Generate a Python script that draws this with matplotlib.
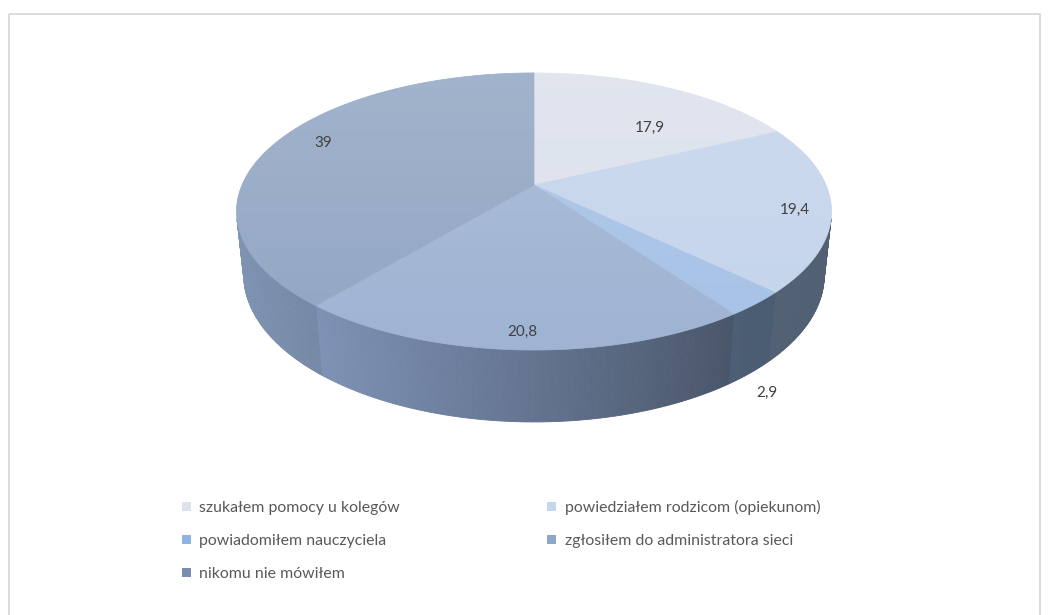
import numpy as np
import matplotlib.pyplot as plt
from matplotlib.patches import Polygon, Rectangle, Patch
from matplotlib.collections import PolyCollection
from matplotlib.colors import to_rgb

plt.rcParams['font.family'] = ['Lato', 'DejaVu Sans']

# dane
labels = ["szukałem pomocy u kolegów",
          "powiedziałem rodzicom (opiekunom)",
          "powiadomiłem nauczyciela",
          "zgłosiłem do administratora sieci",
          "nikomu nie mówiłem"]
values = [17.9, 19.4, 2.9, 20.8, 39]
value_text = ["17,9", "19,4", "2,9", "20,8", "39"]

# kolory: wierzch i boczna ściana
top_colors = ["#dbe1ec", "#c4d4eb", "#a6c2e6", "#9fb4d3", "#92a6c3"]
wall_colors = ["#a7b4c8", "#9db8e0", "#8fb0dc", "#889ec4", "#7f94b3"]
legend_colors = ["#dde3ec", "#c6d6ec", "#8fb4e3", "#8ea7c8", "#7a8fb0"]

# położenie etykiet (promień, przesunięcie kąta w stopniach, poziom)
lab_r = [0.635, 0.88, 1.1, 0.91, 0.84]
lab_da = [10.7, 2.4, 2.0, 0.0, 3.8]
lab_lvl = [0.0, 0.0, -1.0, 0.0, 0.0]

# kamera / perspektywa
alpha = np.radians(27.2)
k = 0.215          # R / odległość kamery
h = 0.246          # grubość placka (w R)
S = 292            # skala w px
cx, cy = 534, 185  # środek placka w px


def project(psi, r=1.0, y=0.0):
    X = r * np.sin(psi)
    Z = -r * np.cos(psi)
    d = 1 - k * (y * np.sin(alpha) + Z * np.cos(alpha))
    sx = S * X / d
    sy = S * (y * np.cos(alpha) - Z * np.sin(alpha)) / d
    return cx + sx, cy - sy


def shade(psi):
    s = 0.35 + 0.325 * (1 + np.cos(psi - np.radians(260)))
    return np.clip(s, 0.52, 1.0)


fig = plt.figure(figsize=(10.48, 6.15), dpi=100)
ax = fig.add_axes([0, 0, 1, 1])
ax.set_xlim(0, 1048)
ax.set_ylim(615, 0)
ax.axis('off')

# ramka wykresu
ax.add_patch(Rectangle((9, 14), 1031, 640, fill=False, edgecolor="#d9d9d9", lw=1.3))

vals = np.array(values)
bounds = np.concatenate([[0], np.cumsum(vals)]) / vals.sum() * 2 * np.pi
cos_lim = -k / np.cos(alpha)  # ściana widoczna gdy cos(psi) < cos_lim

# ściany boczne
quads, qcols = [], []
for i in range(len(vals)):
    a0, a1 = bounds[i], bounds[i + 1]
    ps = np.linspace(a0, a1, max(3, int((a1 - a0) / np.radians(0.5))))
    base = np.array(to_rgb(wall_colors[i]))
    for p0, p1 in zip(ps[:-1], ps[1:]):
        pm = 0.5 * (p0 + p1)
        if np.cos(pm) >= cos_lim:
            continue
        t0 = project(p0)
        t1 = project(p1)
        b1 = project(p1, y=-h)
        b0 = project(p0, y=-h)
        quads.append([t0, t1, b1, b0])
        qcols.append(np.clip(base * shade(pm), 0, 1))
ax.add_collection(PolyCollection(quads, facecolors=qcols, edgecolors=qcols, linewidths=0.6))

# wierzch
for i in range(len(vals)):
    a0, a1 = bounds[i], bounds[i + 1]
    ps = np.linspace(a0, a1, 200)
    pts = [project(0, r=0)] + [project(p) for p in ps]
    ax.add_patch(Polygon(pts, closed=True, facecolor=top_colors[i],
                         edgecolor=top_colors[i], lw=0.5))

# delikatny gradient światła na wierzchu
rim = [project(p) for p in np.linspace(0, 2 * np.pi, 400)]
rim_x = [p[0] for p in rim]
rim_y = [p[1] for p in rim]
clip = Polygon(rim, closed=True, transform=ax.transData, facecolor='none', edgecolor='none')
ax.add_patch(clip)
grad = np.ones((256, 1, 4))
grad[:, 0, 3] = np.linspace(0.15, 0.0, 256)
im = ax.imshow(grad, extent=(min(rim_x), max(rim_x), max(rim_y), min(rim_y)),
               origin='upper', aspect='auto', interpolation='bilinear', zorder=2)
im.set_clip_path(clip)
ax.set_xlim(0, 1048)
ax.set_ylim(615, 0)

# etykiety danych
for i in range(len(vals)):
    mid = 0.5 * (bounds[i] + bounds[i + 1]) + np.radians(lab_da[i])
    x, y = project(mid, r=lab_r[i], y=lab_lvl[i] * h)
    ax.text(x, y, value_text[i], ha='center', va='center', fontsize=11,
            color="#404040", zorder=3)

# legenda (wiersz po wierszu)
handles = [Patch(facecolor=c, edgecolor='none') for c in legend_colors]
order = [0, 2, 4, 1, 3]
ax.legend([handles[j] for j in order], [labels[j] for j in order],
          ncol=2, loc='upper left', bbox_to_anchor=(182, 500),
          bbox_transform=ax.transData, frameon=False, fontsize=11.4,
          labelcolor="#595959", handlelength=0.55, handleheight=0.55,
          handletextpad=0.55, columnspacing=9.3, labelspacing=1.2,
          borderpad=0, borderaxespad=0)

fig.savefig("out.png", dpi=100, facecolor="white")
